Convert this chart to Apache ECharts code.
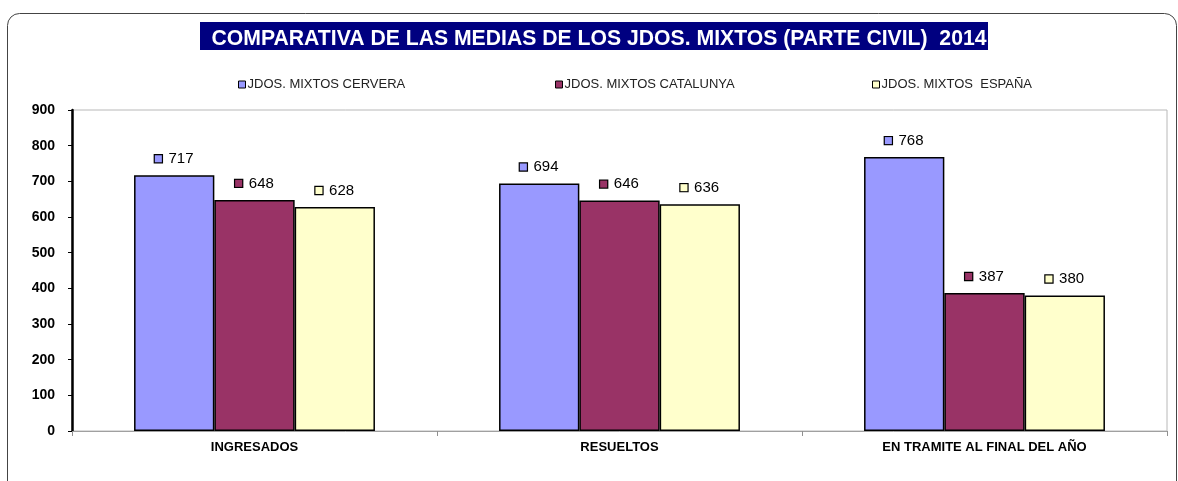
<!DOCTYPE html>
<html>
<head>
<meta charset="utf-8">
<script src="https://cdn.jsdelivr.net/npm/echarts@6/dist/echarts.min.js"></script>
<style>html,body{margin:0;padding:0;background:#fff}#c{width:1178px;height:481px}</style>
</head>
<body>
<div id="c"></div>
<script>
const titleText = 'COMPARATIVA DE LAS MEDIAS DE LOS JDOS. MIXTOS (PARTE CIVIL)  2014';
const categories = ['INGRESADOS', 'RESUELTOS', 'EN TRAMITE AL FINAL DEL AÑO'];
const seriesNames = ['JDOS. MIXTOS CERVERA', 'JDOS. MIXTOS CATALUNYA', 'JDOS. MIXTOS  ESPAÑA'];
const cervera = [717, 694, 768];
const catalunya = [648, 646, 387];
const espana = [628, 636, 380];
const colors = ['#9999FF', '#993366', '#FFFFCC'];
const yTicks = [0, 900, 100];

const seriesData = [cervera, catalunya, espana];
const FONT = '"Liberation Sans", Arial, sans-serif';

const chart = echarts.init(document.getElementById('c'), null, {renderer: 'canvas'});

const legendLefts = [233, 550, 867];

const option = {
  backgroundColor: '#fff',
  animation: false,
  graphic: [
    {type: 'rect', z: 0, shape: {x: 7.5, y: 13.5, width: 1169, height: 480, r: 12},
      style: {fill: 'none', stroke: '#444', lineWidth: 1}},
    {type: 'rect', z: 1, shape: {x: 200, y: 22, width: 788, height: 28},
      style: {fill: '#000080'}}
  ],
  title: {
    text: titleText,
    left: 594, top: 24, textAlign: 'center',
    textStyle: {color: '#fff', fontFamily: FONT, fontWeight: 'bold', fontSize: 21.2},
    z: 5
  },
  legend: seriesNames.map((n, i) => ({
    data: [n], left: legendLefts[i], top: 73,
    itemWidth: 7, itemHeight: 7, icon: 'rect', itemGap: 4,
    itemStyle: {borderColor: '#000', borderWidth: 1},
    textStyle: {fontFamily: FONT, fontSize: 13, color: '#222', padding: [0, 0, 0, -3]}
  })),
  grid: {left: 72, right: 11, top: 110, bottom: 50, show: true, borderColor: '#b8b8b8', borderWidth: 1},
  xAxis: {
    type: 'category', data: categories,
    axisLine: {lineStyle: {color: '#a0a0a0', width: 1}},
    axisTick: {show: true, length: 5, lineStyle: {color: '#909090'}},
    axisLabel: {fontFamily: FONT, fontWeight: 'bold', fontSize: 13, color: '#000', margin: 10}
  },
  yAxis: {
    type: 'value', min: yTicks[0], max: yTicks[1], interval: yTicks[2],
    axisLine: {show: true, lineStyle: {color: '#000', width: 2.5}},
    axisTick: {show: true, length: 4, lineStyle: {color: '#000', width: 1}},
    splitLine: {show: false},
    axisLabel: {fontFamily: FONT, fontWeight: 'bold', fontSize: 14, color: '#000', margin: 17}
  },
  series: seriesData.map((d, i) => ({
    name: seriesNames[i], type: 'bar', data: d,
    barGap: '0%', barCategoryGap: '34%',
    itemStyle: {color: colors[i], borderColor: '#000', borderWidth: 1.5},
    label: {
      show: true, position: 'top', distance: 9,
      formatter: '{ic|}  {v|{c}}',
      rich: {
        ic: {width: 7, height: 7, backgroundColor: colors[i], borderColor: '#000', borderWidth: 1.2},
        v: {fontFamily: FONT, fontSize: 15, color: '#000'}
      }
    }
  }))
};
chart.setOption(option);
</script>
</body>
</html>
